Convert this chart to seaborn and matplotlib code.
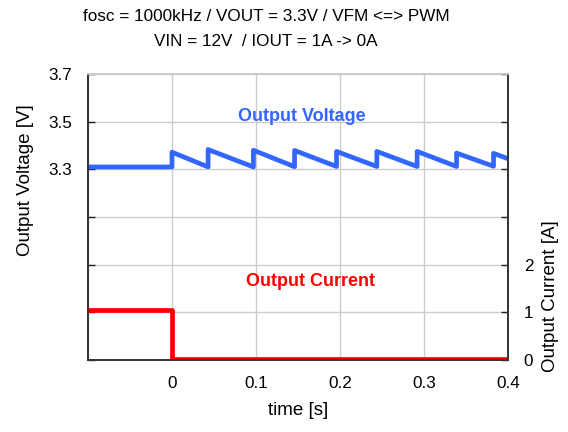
import numpy as np
import pandas as pd
import matplotlib
matplotlib.use("Agg")
import matplotlib.pyplot as plt
import seaborn as sns

# Output voltage waveform vertices (time [s], volts)
v_time = [-0.1, 0.0, 0.0, 0.043, 0.043, 0.097, 0.097, 0.146, 0.146, 0.196, 0.196,
          0.244, 0.244, 0.292, 0.292, 0.339, 0.339, 0.383, 0.383, 0.4]
v_volts = [3.31, 3.31, 3.372, 3.31, 3.383, 3.31, 3.38, 3.311, 3.379, 3.312, 3.375,
           3.312, 3.375, 3.312, 3.375, 3.312, 3.368, 3.313, 3.367, 3.345]

# Output current waveform vertices (time [s], amps)
i_time = [-0.1, 0.0, 0.0, 0.4]
i_amps = [1.05, 1.05, 0.02, 0.02]

v_ticks = [2.5, 2.7, 2.9, 3.1, 3.3, 3.5, 3.7]
v_labels = ["", "", "", "", "3.3", "3.5", "3.7"]
i_ticks = [0, 1, 2, 3, 4, 5, 6]
i_labels = ["0", "1", "2", "", "", "", ""]
x_ticks = [-0.1, 0.0, 0.1, 0.2, 0.3, 0.4]
x_labels = ["", "0", "0.1", "0.2", "0.3", "0.4"]

sns.set_theme(style="white")
plt.rcParams['font.family'] = ['Liberation Sans', 'DejaVu Sans']
plt.rcParams['text.color'] = 'black'
plt.rcParams['axes.labelcolor'] = 'black'

fig = plt.figure(figsize=(5.68, 4.32), dpi=100)
ax = fig.add_axes([0.155, 0.1667, 0.739, 0.662])
ax2 = ax.twinx()

df_v = pd.DataFrame({"t": v_time, "v": v_volts})
df_i = pd.DataFrame({"t": i_time, "i": i_amps})

sns.lineplot(data=df_v, x="t", y="v", ax=ax, color="#3366ff", linewidth=3.4,
             sort=False, estimator=None)
sns.lineplot(data=df_i, x="t", y="i", ax=ax2, color="#ff0000", linewidth=3.4,
             sort=False, estimator=None)

ax.set_xlim(-0.1, 0.4)
ax.set_ylim(2.5, 3.7)
ax2.set_ylim(0, 6)

ax.set_xticks(x_ticks)
ax.set_xticklabels(x_labels)
ax.set_yticks(v_ticks)
ax.set_yticklabels(v_labels)
ax2.set_yticks(i_ticks)
ax2.set_yticklabels(i_labels)

ax.grid(True, color="#cccccc", linewidth=1)
ax.set_axisbelow(True)
ax2.grid(False)

for a in (ax, ax2):
    a.tick_params(direction="in", length=5, width=1, colors="#222222", labelsize=12.3,
                  labelcolor="black", pad=11.5)
    for s in ("left", "right", "bottom"):
        a.spines[s].set_color("#333333")
        a.spines[s].set_linewidth(1.2)
    a.spines["top"].set_color("#cccccc")

ax.set_xlabel("time [s]", fontsize=13.5, va="center")
ax.xaxis.set_label_coords(0.5, -0.175)
ax.set_ylabel("Output Voltage [V]", fontsize=13.5, va="center")
ax.yaxis.set_label_coords(-0.150, 0.63)
ax2.set_ylabel("Output Current [A]", fontsize=13.5, va="center", rotation=90)
ax2.yaxis.set_label_coords(1.102, 0.224)

ax.text(0.155, 3.52, "Output Voltage", color="#3366ff", fontsize=13,
        fontweight="bold", ha="center", va="center")
ax2.text(0.165, 1.65, "Output Current", color="#ff0000", fontsize=13,
         fontweight="bold", ha="center", va="center")

fig.text(0.468, 0.961, "fosc = 1000kHz / VOUT = 3.3V / VFM <=> PWM",
         ha="center", va="center", fontsize=12.3)
fig.text(0.468, 0.905, "VIN = 12V  / IOUT = 1A -> 0A",
         ha="center", va="center", fontsize=12.3)

fig.savefig("out.png", dpi=100)
